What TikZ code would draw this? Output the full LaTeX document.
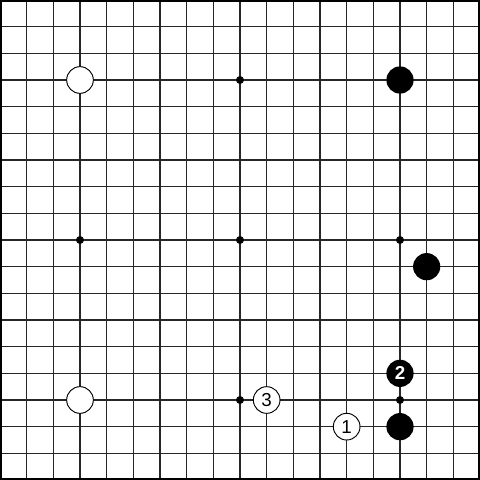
\documentclass[tikz,border=0pt]{standalone}
\usepackage{fontspec}
\setsansfont{Liberation Sans}
\begin{document}
\begin{tikzpicture}[x=0.5cm,y=-0.5cm,
    white stone/.style={circle,draw,fill=white,line width=0.5pt,
      minimum size=0.5cm,inner sep=0pt,font=\sffamily\fontsize{10}{10}\selectfont},
    black stone/.style={circle,fill=black,text=white,
      minimum size=0.51cm,inner sep=0pt,font=\sffamily\bfseries\fontsize{10}{10}\selectfont},
    hoshi/.style={circle,fill=black,minimum size=0.15cm,inner sep=0pt}]
    \useasboundingbox (0,0) rectangle (18,18);
    % grid
    \foreach \i in {1,...,17} {
      \draw[black!85,line width=0.55pt] (\i,0) -- (\i,18);
      \draw[black!85,line width=0.55pt] (0,\i) -- (18,\i);
    }
    \draw[line width=2.2pt] (0,0) rectangle (18,18);
    % star points
    \foreach \x/\y [count=\n] in {9/3,3/9,9/9,15/9,9/15,15/15}
      \node[hoshi] (hoshi\n) at (\x,\y) {};
    % stones
    \node[white stone] (w1) at (3,3) {};
    \node[black stone] (b1) at (15,3) {};
    \node[black stone] (b2) at (16,10) {};
    \node[white stone] (w2) at (3,15) {};
    \node[black stone] (b3) at (15,16) {};
    \node[white stone] (move1) at (13,16) {1};
    \node[black stone] (move2) at (15,14) {2};
    \node[white stone] (move3) at (10,15) {3};
  \end{tikzpicture}
\end{document}
